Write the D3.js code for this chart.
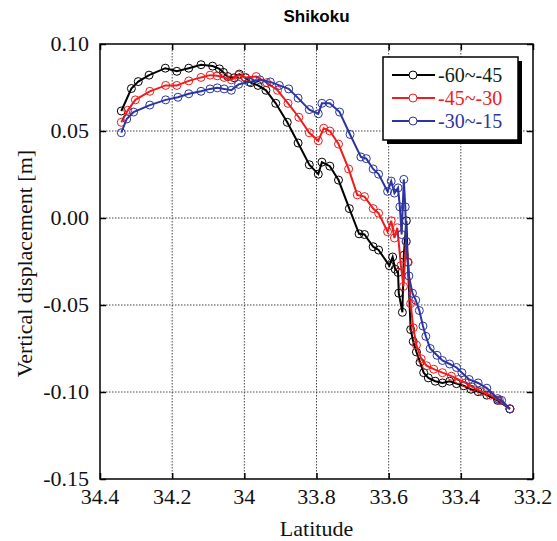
<!DOCTYPE html>
<html>
<head>
<meta charset="utf-8">
<script src="https://cdn.jsdelivr.net/npm/d3@7.9.0/dist/d3.min.js"></script>
<style>
  body { margin: 0; background: #fff; }
  svg { display: block; }
  .serif { font-family: "Liberation Serif", "Times New Roman", Times, serif; }
</style>
</head>
<body>
<div id="chart"></div>
<script>
// latitude / vertical displacement [m]
const lat6045 = [34.341, 34.313, 34.294, 34.264, 34.219, 34.187, 34.154, 34.120, 34.088, 34.069,
  34.058, 34.046, 34.028, 34.014, 33.997, 33.982, 33.962, 33.940, 33.913, 33.881,
  33.851, 33.820, 33.795, 33.785, 33.763, 33.739, 33.709, 33.682, 33.667, 33.643,
  33.628, 33.598, 33.589, 33.582, 33.574, 33.572, 33.562, 33.558, 33.551, 33.547,
  33.539, 33.532, 33.523, 33.513, 33.503, 33.490, 33.471, 33.451, 33.431, 33.412,
  33.392, 33.372, 33.352, 33.328, 33.298, 33.264];
const dz6045 = [0.0615, 0.0744, 0.0784, 0.0821, 0.0861, 0.0843, 0.0861, 0.0881, 0.0873, 0.0857,
  0.0837, 0.0813, 0.0806, 0.0827, 0.0806, 0.0778, 0.0762, 0.0734, 0.0659, 0.0550,
  0.0431, 0.0306, 0.0252, 0.0321, 0.0298, 0.0218, 0.0054, -0.0091, -0.0095, -0.0165,
  -0.0184, -0.0274, -0.0224, -0.0294, -0.0313, -0.0432, -0.0542, -0.0214, -0.0016, -0.0254,
  -0.0641, -0.0710, -0.0770, -0.0829, -0.0889, -0.0919, -0.0938, -0.0948, -0.0938, -0.0952,
  -0.0964, -0.0984, -0.0998, -0.1018, -0.1048, -0.1097];

const lat4530 = [34.341, 34.323, 34.302, 34.262, 34.218, 34.187, 34.154, 34.120, 34.095, 34.075,
  34.056, 34.036, 34.016, 33.997, 33.967, 33.938, 33.908, 33.879, 33.849, 33.820,
  33.795, 33.780, 33.763, 33.739, 33.711, 33.687, 33.667, 33.643, 33.628, 33.603,
  33.593, 33.584, 33.576, 33.566, 33.559, 33.552, 33.546, 33.539, 33.532, 33.523,
  33.510, 33.495, 33.475, 33.451, 33.426, 33.407, 33.387, 33.367, 33.343, 33.318,
  33.293, 33.264];
const dz4530 = [0.0550, 0.0619, 0.0679, 0.0728, 0.0762, 0.0762, 0.0788, 0.0808, 0.0821, 0.0817,
  0.0808, 0.0794, 0.0821, 0.0808, 0.0813, 0.0778, 0.0734, 0.0659, 0.0579, 0.0490,
  0.0444, 0.0516, 0.0500, 0.0425, 0.0282, 0.0133, 0.0123, 0.0054, 0.0028, -0.0079,
  -0.0016, -0.0115, -0.0056, -0.0274, -0.0393, -0.0135, -0.0254, -0.0492, -0.0631, -0.0730,
  -0.0809, -0.0849, -0.0869, -0.0889, -0.0909, -0.0928, -0.0948, -0.0972, -0.0998, -0.1018,
  -0.1048, -0.1097];

const lat3015 = [34.341, 34.326, 34.307, 34.262, 34.218, 34.184, 34.154, 34.120, 34.095, 34.075,
  34.056, 34.036, 34.016, 33.987, 33.957, 33.928, 33.903, 33.877, 33.851, 33.820,
  33.795, 33.785, 33.763, 33.736, 33.707, 33.677, 33.662, 33.643, 33.628, 33.603,
  33.593, 33.584, 33.574, 33.569, 33.564, 33.558, 33.554, 33.551, 33.544, 33.534,
  33.525, 33.515, 33.505, 33.497, 33.485, 33.466, 33.451, 33.431, 33.412, 33.397,
  33.377, 33.352, 33.328, 33.298, 33.287, 33.264];
const dz3015 = [0.0490, 0.0569, 0.0609, 0.0649, 0.0679, 0.0694, 0.0714, 0.0728, 0.0742, 0.0748,
  0.0742, 0.0734, 0.0768, 0.0782, 0.0794, 0.0782, 0.0762, 0.0742, 0.0689, 0.0623,
  0.0599, 0.0659, 0.0659, 0.0609, 0.0480, 0.0351, 0.0341, 0.0282, 0.0252, 0.0153,
  0.0212, 0.0143, 0.0173, 0.0064, -0.0095, 0.0222, 0.0064, -0.0135, -0.0333, -0.0432,
  -0.0472, -0.0532, -0.0621, -0.0680, -0.0750, -0.0789, -0.0819, -0.0839, -0.0859, -0.0889,
  -0.0928, -0.0948, -0.0978, -0.1038, -0.1048, -0.1097];

const seriesNames = ['-60~-45', '-45~-30', '-30~-15'];
const seriesColors = ['#000000', '#ee1c1c', '#2b35a0'];
const legendTextColors = ['#0c2414', '#ee1c1c', '#2b35a0'];
const xTicks = [34.4, 34.2, 34.0, 33.8, 33.6, 33.4, 33.2];
const xTickLabels = ['34.4', '34.2', '34', '33.8', '33.6', '33.4', '33.2'];
const yTicks = [0.10, 0.05, 0.00, -0.05, -0.10, -0.15];
const yTickLabels = ['0.10', '0.05', '0.00', '-0.05', '-0.10', '-0.15'];

const series = [
  { name: seriesNames[0], color: seriesColors[0], pts: d3.zip(lat6045, dz6045) },
  { name: seriesNames[1], color: seriesColors[1], pts: d3.zip(lat4530, dz4530) },
  { name: seriesNames[2], color: seriesColors[2], pts: d3.zip(lat3015, dz3015) },
];

const width = 557, height = 541;
const mLeft = 100, mRight = 533, mTop = 44, mBottom = 479;

const svg = d3.select('#chart').append('svg')
  .attr('width', width)
  .attr('height', height);

const x = d3.scaleLinear().domain([34.4, 33.2]).range([mLeft, mRight]);
const y = d3.scaleLinear().domain([-0.15, 0.10]).range([mBottom, mTop]);

// grid
svg.append('g')
  .selectAll('line')
  .data(xTicks.slice(1, -1))
  .join('line')
  .attr('x1', d => x(d)).attr('x2', d => x(d))
  .attr('y1', mTop).attr('y2', mBottom)
  .attr('stroke', '#444').attr('stroke-width', 1)
  .attr('stroke-dasharray', '1.5,1.5');

svg.append('g')
  .selectAll('line')
  .data(yTicks.slice(1, -1))
  .join('line')
  .attr('x1', mLeft).attr('x2', mRight)
  .attr('y1', d => y(d)).attr('y2', d => y(d))
  .attr('stroke', '#444').attr('stroke-width', 1)
  .attr('stroke-dasharray', '1.5,1.5');

// inward ticks
const yAxisL = d3.axisLeft(y).tickValues(yTicks).tickSize(-6).tickFormat('');
const yAxisR = d3.axisRight(y).tickValues(yTicks).tickSize(-6).tickFormat('');
const xAxisB = d3.axisBottom(x).tickValues(xTicks).tickSize(-6).tickFormat('');
const xAxisT = d3.axisTop(x).tickValues(xTicks).tickSize(-6).tickFormat('');
[[yAxisL, `translate(${mLeft},0)`], [yAxisR, `translate(${mRight},0)`],
 [xAxisB, `translate(0,${mBottom})`], [xAxisT, `translate(0,${mTop})`]].forEach(([ax, tr]) => {
  const g = svg.append('g').attr('transform', tr).call(ax);
  g.select('.domain').remove();
  g.selectAll('line').attr('stroke', '#000').attr('stroke-width', 1.5);
});

// frame
svg.append('rect')
  .attr('x', mLeft).attr('y', mTop)
  .attr('width', mRight - mLeft).attr('height', mBottom - mTop)
  .attr('fill', 'none').attr('stroke', '#000').attr('stroke-width', 1.5);

// tick labels
svg.append('g')
  .selectAll('text')
  .data(yTicks)
  .join('text')
  .attr('class', 'serif')
  .attr('x', mLeft - 11)
  .attr('y', d => y(d) + 7)
  .attr('text-anchor', 'end')
  .attr('font-size', 22)
  .attr('fill', '#111')
  .text((d, i) => yTickLabels[i]);

svg.append('g')
  .selectAll('text')
  .data(xTicks)
  .join('text')
  .attr('class', 'serif')
  .attr('x', d => x(d))
  .attr('y', mBottom + 25)
  .attr('text-anchor', 'middle')
  .attr('font-size', 22)
  .attr('fill', '#111')
  .text((d, i) => xTickLabels[i]);

// titles
svg.append('text')
  .attr('x', (mLeft + mRight) / 2).attr('y', 22)
  .attr('text-anchor', 'middle')
  .attr('font-family', '"Liberation Sans", Arial, sans-serif')
  .attr('font-weight', 'bold').attr('font-size', 17)
  .text('Shikoku');

svg.append('text')
  .attr('class', 'serif')
  .attr('x', (mLeft + mRight) / 2).attr('y', 536)
  .attr('text-anchor', 'middle')
  .attr('font-size', 22)
  .attr('fill', '#111')
  .text('Latitude');

svg.append('text')
  .attr('class', 'serif')
  .attr('transform', `translate(32,${(mTop + mBottom) / 2 + 2}) rotate(-90)`)
  .attr('text-anchor', 'middle')
  .attr('font-size', 22)
  .attr('fill', '#111')
  .text('Vertical displacement [m]');

// series
const line = d3.line().x(d => x(d[0])).y(d => y(d[1]));
const plot = svg.append('g');
series.forEach(s => {
  plot.append('path')
    .datum(s.pts)
    .attr('d', line)
    .attr('fill', 'none')
    .attr('stroke', s.color)
    .attr('stroke-width', 2);
  plot.append('g')
    .selectAll('circle')
    .data(s.pts)
    .join('circle')
    .attr('cx', d => x(d[0]))
    .attr('cy', d => y(d[1]))
    .attr('r', 4)
    .attr('fill', 'none')
    .attr('stroke', s.color)
    .attr('stroke-width', 1);
});

// legend
const lg = svg.append('g');
lg.append('rect')
  .attr('x', 387).attr('y', 61).attr('width', 135).attr('height', 83)
  .attr('fill', '#000');
lg.append('rect')
  .attr('x', 383).attr('y', 57).attr('width', 135).attr('height', 83)
  .attr('fill', '#fff').attr('stroke', '#000').attr('stroke-width', 1.5);
series.forEach((s, i) => {
  const cy = 75 + i * 23;
  lg.append('line')
    .attr('x1', 392).attr('x2', 435).attr('y1', cy).attr('y2', cy)
    .attr('stroke', s.color).attr('stroke-width', 2);
  lg.append('circle')
    .attr('cx', 413).attr('cy', cy).attr('r', 4)
    .attr('fill', '#fff').attr('stroke', s.color).attr('stroke-width', 1);
  lg.append('text')
    .attr('class', 'serif')
    .attr('x', 438).attr('y', cy + 7)
    .attr('font-size', 20)
    .attr('fill', legendTextColors[i])
    .text(s.name);
});
</script>
</body>
</html>
